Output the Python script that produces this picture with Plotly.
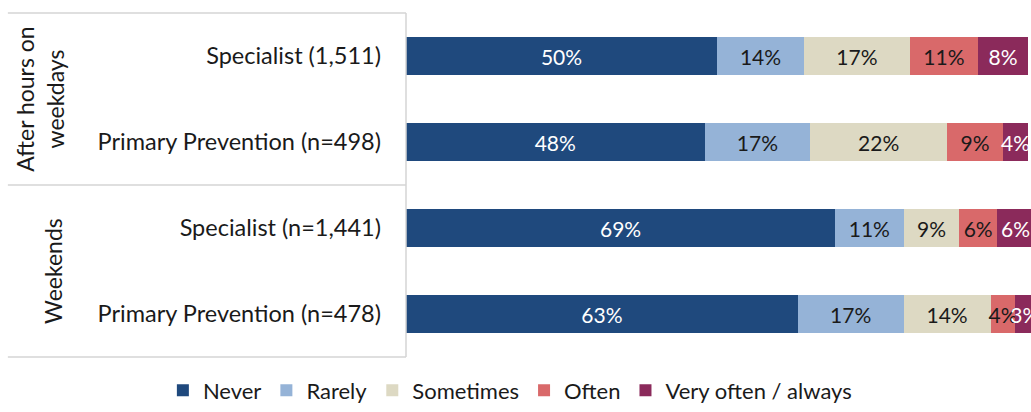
import plotly.graph_objects as go

# Survey rows (top to bottom) and response shares in percent
rows = [
    "Specialist (1,511)",
    "Primary Prevention (n=498)",
    "Specialist (n=1,441)",
    "Primary Prevention (n=478)",
]
responses = ["Never", "Rarely", "Sometimes", "Often", "Very often / always"]
never = [50, 48, 69, 63]
rarely = [14, 17, 11, 17]
sometimes = [17, 22, 9, 14]
often = [11, 9, 6, 4]
very_often = [8, 4, 6, 3]

groups = ["After hours on<br>weekdays", "Weekends"]

series = [never, rarely, sometimes, often, very_often]
colors = ["#1f497d", "#95b3d7", "#ddd9c3", "#d9696a", "#8b2a5b"]
text_colors = ["#ffffff", "#1a1a1a", "#1a1a1a", "#1a1a1a", "#ffffff"]

FONT = "Lato, Arial, sans-serif"

fig = go.Figure()
for name, vals, col, tcol in zip(responses, series, colors, text_colors):
    fig.add_trace(go.Bar(
        y=rows,
        x=vals,
        name=name,
        orientation="h",
        marker=dict(color=col, line=dict(width=0)),
        text=[f"{v}%" for v in vals],
        textposition="inside",
        insidetextanchor="middle",
        textangle=0,
        constraintext="none",
        textfont=dict(family=FONT, size=21, color=tcol),
        hoverinfo="skip",
    ))

# Table-style rules around the row labels
line_style = dict(color="#d4d4d4", width=1.5)
x_left = -0.637
for yy in (0, 0.5, 1):
    fig.add_shape(type="line", xref="paper", yref="paper",
                  x0=x_left, x1=0, y0=yy, y1=yy, line=line_style)
fig.add_shape(type="line", xref="paper", yref="paper",
              x0=0, x1=0, y0=0, y1=1, line=line_style)

# Group labels, rotated
fig.add_annotation(text=groups[0], xref="paper", yref="paper",
                   x=-0.586, y=0.75, xanchor="center", yanchor="middle",
                   textangle=-90, showarrow=False,
                   font=dict(family=FONT, size=23, color="#1a1a1a"))
fig.add_annotation(text=groups[1], xref="paper", yref="paper",
                   x=-0.565, y=0.25, xanchor="center", yanchor="middle",
                   textangle=-90, showarrow=False,
                   font=dict(family=FONT, size=23, color="#1a1a1a"))

fig.update_layout(
    barmode="stack",
    bargap=0.56,
    width=1031,
    height=412,
    margin=dict(l=406, r=0, t=13, b=55),
    paper_bgcolor="white",
    plot_bgcolor="white",
    font=dict(family=FONT, size=22, color="#1a1a1a"),
    xaxis=dict(range=[0, 100.5], visible=False, fixedrange=True),
    yaxis=dict(
        categoryorder="array",
        categoryarray=rows,
        autorange="reversed",
        showgrid=False,
        zeroline=False,
        showline=False,
        ticks="",
        ticklabelstandoff=24,
        tickfont=dict(family=FONT, size=23.5, color="#1a1a1a"),
        fixedrange=True,
    ),
    legend=dict(
        orientation="h",
        x=-0.389, y=-0.158,
        xanchor="left", yanchor="bottom",
        font=dict(family=FONT, size=22, color="#1a1a1a"),
        itemwidth=30,
        traceorder="normal",
        tracegroupgap=0,
    ),
    showlegend=True,
)

fig.write_html("out.html")
